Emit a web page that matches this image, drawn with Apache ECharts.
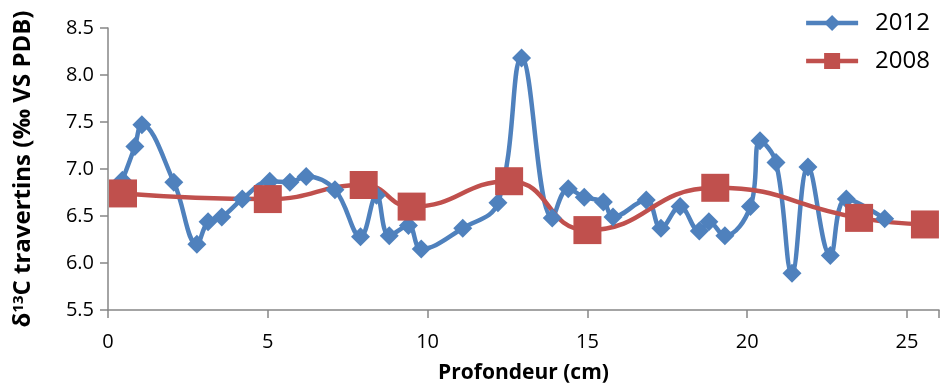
<!DOCTYPE html>
<html><head><meta charset="utf-8">
<script src="https://cdn.jsdelivr.net/npm/echarts@6/dist/echarts.min.js"></script>
<style>html,body{margin:0;padding:0;background:#fff}#c{width:943px;height:389px}</style>
</head><body><div id="c"></div>
<script>
var x2012 = [0.45,0.84,1.06,2.06,2.78,3.13,3.56,4.2,5.06,5.69,6.2,7.1,7.9,8.4,8.8,9.4,9.8,11.1,12.2,12.94,13.9,14.4,14.9,15.5,15.8,16.84,17.3,17.9,18.5,18.8,19.3,20.1,20.4,20.9,21.4,21.9,22.6,23.1,24.3];
var y2012 = [6.88,7.24,7.47,6.86,6.2,6.44,6.49,6.68,6.87,6.86,6.92,6.78,6.28,6.72,6.29,6.4,6.15,6.37,6.64,8.18,6.48,6.79,6.7,6.65,6.49,6.67,6.37,6.6,6.34,6.44,6.29,6.6,7.3,7.07,5.89,7.02,6.08,6.68,6.47];
var x2008 = [0.47,5.0,8.0,9.5,12.55,15.0,19.0,23.5,25.56];
var y2008 = [6.74,6.68,6.83,6.6,6.87,6.35,6.8,6.48,6.41];
var seriesNames = ['2012','2008'];
var xTitle = 'Profondeur (cm)';
var yTitle = '{b|δ}{sup|13}{b|C travertins (‰ VS PDB)}';

function pairs(xs, ys){ return xs.map(function(x,i){return [x, ys[i]];}); }
var font = 'Open Sans';
var chart = echarts.init(document.getElementById('c'));
chart.setOption({
  animation:false,
  textStyle:{fontFamily:font},
  grid:{left:108, top:28, right:4, bottom:79},
  legend:{
    orient:'vertical', right:8, top:6, itemGap:14, itemWidth:52, itemHeight:20,
    textStyle:{fontSize:24, color:'#000', fontFamily:font, padding:[0,0,0,12]},
    lineStyle:{width:4.5},
    data:seriesNames
  },
  xAxis:{
    type:'value', min:0, max:26, interval:5,
    axisLine:{show:true, lineStyle:{color:'#868686', width:1.5}},
    axisTick:{show:true, length:8, lineStyle:{color:'#868686', width:1.5}},
    splitLine:{show:false},
    axisLabel:{fontSize:20, color:'#000', margin:22, formatter:function(v){return v<=25? String(v):'';}},
    name:xTitle, nameLocation:'middle', nameGap:53,
    nameTextStyle:{fontSize:21, fontWeight:'bold', color:'#000'}
  },
  yAxis:{
    type:'value', min:5.5, max:8.5, interval:0.5,
    axisLine:{show:true, lineStyle:{color:'#868686', width:1.5}},
    axisTick:{show:true, length:8, lineStyle:{color:'#868686', width:1.5}},
    splitLine:{show:false},
    axisLabel:{fontSize:20, color:'#000', margin:14, formatter:function(v){return v.toFixed(1);}},
    name:yTitle, nameLocation:'middle', nameGap:73, nameRotate:90,
    nameTextStyle:{fontSize:24, fontWeight:'bold', color:'#000',
      rich:{
        b:{fontSize:24, fontWeight:'bold', color:'#000', fontFamily:font},
        sup:{fontSize:15, fontWeight:'bold', color:'#000', fontFamily:font, verticalAlign:'top', padding:[0,0,9,0]}
      }}
  },
  series:[
    {name:seriesNames[0], type:'line', data:pairs(x2012,y2012), smooth:0.4,
     symbol:'diamond', symbolSize:19,
     lineStyle:{color:'#4F81BD', width:4.5},
     itemStyle:{color:'#4F81BD'}},
    {name:seriesNames[1], type:'line', data:pairs(x2008,y2008), smooth:0.5,
     symbol:'rect', symbolSize:28,
     lineStyle:{color:'#C0504D', width:4.5},
     itemStyle:{color:'#C0504D'}}
  ]
});
</script></body></html>
